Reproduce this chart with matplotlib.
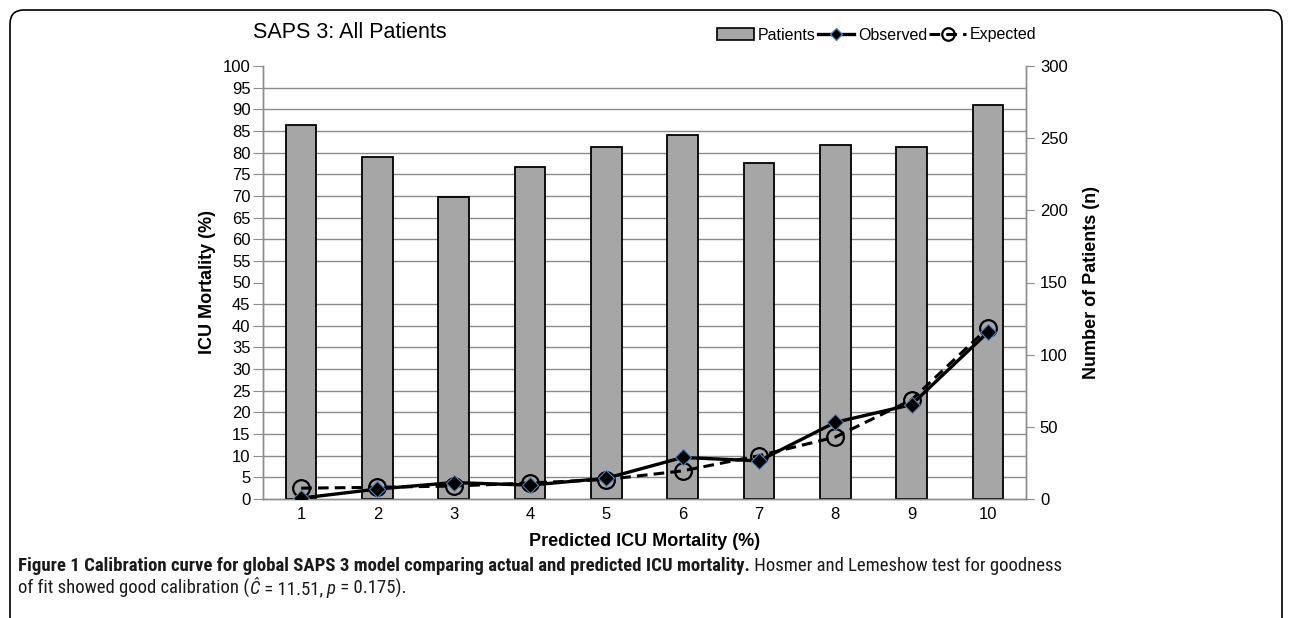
# SAPS 3 calibration chart - observed vs expected ICU mortality per decile

import os
import numpy as np
import matplotlib
matplotlib.use("Agg")
import matplotlib.pyplot as plt
from matplotlib import font_manager as fm
from matplotlib.patches import FancyBboxPatch, Patch
from matplotlib.lines import Line2D
from matplotlib.transforms import IdentityTransform

plt.rcParams['font.family'] = ['Liberation Sans', 'DejaVu Sans']

# ---------- DATA ----------
deciles = [1, 2, 3, 4, 5, 6, 7, 8, 9, 10]
patients = [259, 237, 209, 230, 244, 252, 233, 245, 244, 273]
observed = [0.2, 2.3, 3.8, 3.2, 4.8, 9.6, 8.8, 17.7, 21.8, 38.5]
expected = [2.5, 2.7, 3.0, 3.7, 4.5, 6.5, 10.0, 14.3, 22.9, 39.5]

W, H = 1292, 618
fig = plt.figure(figsize=(W / 100, H / 100), dpi=100)

# rounded frame around the figure panel (bottom edge runs off the image)
frame = FancyBboxPatch((10, -60), W - 20, H - 10 + 60,
                       boxstyle="round,pad=0,rounding_size=14",
                       transform=IdentityTransform(), fill=False,
                       edgecolor="black", linewidth=1.2)
fig.patches.append(frame)

ax = fig.add_axes([263 / W, 1 - 499 / H, (1026 - 263) / W, (499 - 66) / H])
ax2 = ax.twinx()
ax.set_zorder(2)
ax2.set_zorder(1)
ax.patch.set_visible(False)

# ---------- BARS (right axis) ----------
ax2.bar(deciles, patients, width=0.4, color="#a6a6a6", edgecolor="black",
        linewidth=1.3, zorder=3)
ax2.set_ylim(0, 300)
ax2.set_yticks(np.arange(0, 301, 50))
ax2.set_yticks(np.arange(0, 301, 15), minor=True)
ax2.grid(which="minor", axis="y", color="#8c8c8c", linewidth=1.0, zorder=0)
ax2.tick_params(axis="y", which="minor", length=0)
ax2.tick_params(axis="y", which="major", length=6, color="#8c8c8c",
                labelsize=12, pad=4)
ax2.set_ylabel("Number of Patients (n)", fontsize=13, fontweight="bold",
               va="center")
ax2.yaxis.set_label_coords(1 + (1092 - 1026) / 763, 0.5)

# ---------- LINES (left axis) ----------
ax.plot(deciles, observed, color="black", linewidth=2.4, marker="D",
        markersize=8, markerfacecolor="black", markeredgecolor="#4f81bd",
        markeredgewidth=0.8, zorder=5)
ax.plot(deciles, expected, color="black", linewidth=2.2, linestyle=(0, (3.5, 2)),
        marker="o", markersize=12, markerfacecolor="none",
        markeredgecolor="black", markeredgewidth=1.6, zorder=4)

ax.set_xlim(0.5, 10.5)
ax.set_ylim(0, 100)
ax.set_yticks(np.arange(0, 101, 5))
ax.set_xticks(deciles)
ax.tick_params(axis="y", length=7, color="#8c8c8c", labelsize=12, pad=2)
ax.tick_params(axis="x", length=0, labelsize=12, pad=6)
ax.set_ylabel("ICU Mortality (%)", fontsize=13, fontweight="bold", va="center")
ax.yaxis.set_label_coords(-(263 - 207) / 763, 0.5)
ax.set_xlabel("Predicted ICU Mortality (%)", fontsize=13, fontweight="bold",
              va="center")
ax.xaxis.set_label_coords(0.5, -(542 - 499) / 433)

for a in (ax, ax2):
    a.spines["top"].set_visible(False)
    for s in ("left", "right", "bottom"):
        a.spines[s].set_color("#8c8c8c")
        a.spines[s].set_linewidth(1.0)

# ---------- TITLE + LEGEND ----------
fig.text(253 / W, 1 - 33 / H, "SAPS 3: All Patients", fontsize=15.5,
         ha="left", va="center")

handles = [
    Patch(facecolor="#a6a6a6", edgecolor="black", linewidth=1.2),
    Line2D([], [], color="black", linewidth=2.4, marker="D", markersize=6,
           markerfacecolor="black", markeredgecolor="#4f81bd"),
    Line2D([], [], color="black", linewidth=2.2, linestyle=(0, (3.5, 2)),
           marker="o", markersize=9, markerfacecolor="none",
           markeredgecolor="black", markeredgewidth=1.6),
]
fig.legend(handles, ["Patients", "Observed", "Expected"], ncol=3,
           loc="center", bbox_to_anchor=(877 / W, 1 - 35 / H), frameon=False,
           fontsize=11.5, handlelength=2.3, handletextpad=0.25,
           columnspacing=0.1, borderpad=0)


# ---------- CAPTION FONT (condensed if one is installed) ----------
def find_condensed():
    files = [f.fname for f in fm.fontManager.ttflist]
    prefixes = ["liberationsansnarrow", "robotocondensed",
                "notosans-condensed", "dejavusanscondensed",
                "opensanscondensed", "opensans_condensed"]
    for pre in prefixes:
        cand = [p for p in files if os.path.basename(p).lower().startswith(pre)]
        if not cand:
            continue
        found = {}
        for p in cand:
            rest = os.path.basename(p).lower()[len(pre):]
            rest = os.path.splitext(rest)[0].strip("-_")
            if rest in ("", "regular"):
                found["regular"] = p
            elif rest == "bold":
                found["bold"] = p
            elif rest in ("italic", "oblique"):
                found["italic"] = p
        if "regular" in found and "bold" in found:
            found.setdefault("italic", found["regular"])
            return found
    return None


cond = find_condensed()


def props(kind, size):
    if cond:
        return fm.FontProperties(fname=cond[kind], size=size)
    weight = "bold" if kind == "bold" else "normal"
    style = "italic" if kind == "italic" else "normal"
    return fm.FontProperties(family="Liberation Sans", weight=weight,
                             style=style, size=size)


fig.canvas.draw()
renderer = fig.canvas.get_renderer()

line1 = [("Figure 1 Calibration curve for global SAPS 3 model comparing "
          "actual and predicted ICU mortality.", "bold"),
         (" Hosmer and Lemeshow test for goodness", "regular")]
line2 = [("of fit showed good calibration (", "regular"),
         ("Ĉ", "italic"),
         (" = 11.51, ", "regular"),
         ("p", "italic"),
         (" = 0.175).", "regular")]


def write_line(x, y, parts, size):
    # place text segments one after another on the same baseline
    for txt, kind in parts:
        t = fig.text(x / W, y / H, txt, fontproperties=props(kind, size),
                     color="#1a1a1a", ha="left", va="baseline")
        x = t.get_window_extent(renderer).x1
    return x


cap_size = 13.5
write_line(18, H - 571, line1, cap_size)
write_line(18, H - 594, line2, cap_size)

fig.savefig("out.png", dpi=100)
